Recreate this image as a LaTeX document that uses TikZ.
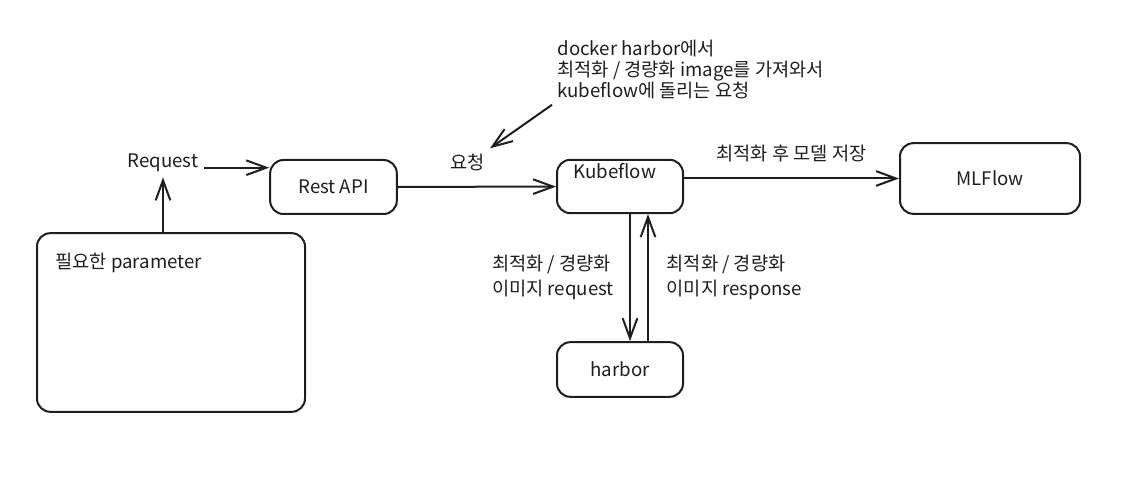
\documentclass[tikz,border=0pt]{standalone}
\usepackage{fontspec}
\setmainfont{Noto Sans CJK KR}
\usetikzlibrary{arrows.meta, positioning}
\definecolor{ink}{HTML}{1E1E1E}
\newcommand\txtsize{\fontsize{14}{18.75}\selectfont}

\begin{document}
\begin{tikzpicture} [x=0.75pt, y=-0.75pt, color=ink, line width=1.5pt,
  >={Straight Barb[length=15pt, width=11pt]},
  every node/.style={font=\txtsize},
  box/.style={draw, rounded corners=10pt}]
\useasboundingbox (0,0) rectangle (1132,495);
\node[box, minimum width=201pt, minimum height=134pt](param) at (171,322.5){};
\node[anchor=west](paramtxt) at (50,263){필요한 parameter};
\node[box, minimum width=95pt, minimum height=40.5pt](rest) at (333.5,187){Rest API};
\node[box, minimum width=94.5pt, minimum height=40pt, label ={[anchor=north, inner sep=3pt, xshift=-4pt] north:Kubeflow}](kube) at (620,186.5){};
\node[box, minimum width=135pt, minimum height=53pt](mlflow) at (990,178.5){MLFlow};
\node[box, minimum width=94.5pt, minimum height=41pt](harbor) at (620,369.5){harbor};
\node(req) at (163,163){Request};
\node[anchor=north west, align=left, font=\fontsize{14}{15.75}\selectfont](note) at (552,35){docker harbor에서\\최적화 / 경량화 image를 가져와서\\kubeflow에 돌리는 요청};
\draw [->](req.south |- param.north) -- (req);
\draw [->](req.base east) -- (req.base east -| rest.west);
\draw [->](rest) -- (kube) node[above=8pt, pos=.44](ask){요청};
\draw [->](kube.east |- mlflow) -- (mlflow) node[above=8pt, midway]{최적화 후 모델 저장};
\draw [->]([xshift=7.5pt]kube.south) -- ([xshift=7.5pt]harbor.north) node[left=8pt, midway, align=left]{최적화 / 경량화\\이미지 request};
\draw [->]([xshift=21pt]harbor.north) -- ([xshift=21pt]kube.south) node[right=10pt, midway, align=left]{최적화 / 경량화\\이미지 response};
\draw [->](note.south west) -- (ask.north east);
\end{tikzpicture}
\end{document}
